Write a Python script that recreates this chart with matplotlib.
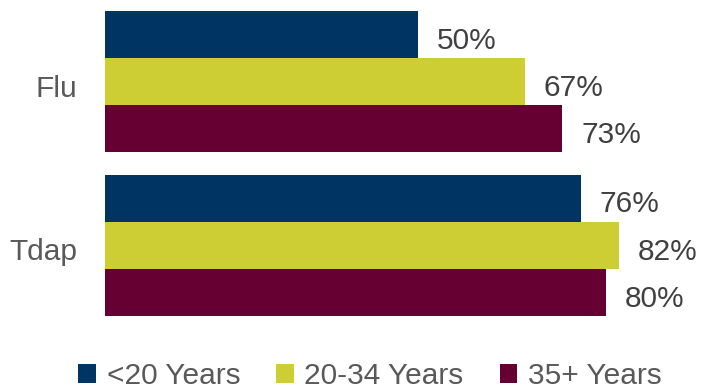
import matplotlib
matplotlib.use("Agg")
import matplotlib.pyplot as plt
import matplotlib.transforms as mtransforms
import numpy as np

categories = ["Flu", "Tdap"]
series_names = ["<20 Years", "20-34 Years", "35+ Years"]
values = {
    "<20 Years": [50, 76],
    "20-34 Years": [67, 82],
    "35+ Years": [73, 80],
}
colors = ["#003462", "#CDCE33", "#660033"]

plt.rcParams['font.family'] = ['Liberation Sans', 'DejaVu Sans']

fig = plt.figure(figsize=(7.14, 3.89), dpi=100)
ax = fig.add_axes([105/714, 62/389, 609/714, 327/389])

h = 0.2875
y = np.arange(len(categories))
handles = []
for i, (name, c) in enumerate(zip(series_names, colors)):
    vals = values[name]
    ypos = y + (i - 1) * h
    b = ax.barh(ypos, vals, height=h, color=c, edgecolor='none', label=name)
    handles.append(b)
    for yy, v in zip(ypos, vals):
        ax.annotate(f"{v}%", xy=(v, yy), xytext=(13.5, -4.5), textcoords='offset points',
                    ha='left', va='center', fontsize=21.5, color='#404040')

ax.set_xlim(0, 97.2)
ax.set_ylim(1.5, -0.5)
ax.set_yticks(y)
ax.set_yticklabels(categories, fontsize=21.5, color='#595959')
ax.tick_params(axis='y', length=0, pad=20)
offset = mtransforms.ScaledTranslation(0, -3/72, fig.dpi_scale_trans)
for lbl in ax.get_yticklabels():
    lbl.set_transform(lbl.get_transform() + offset)
ax.set_xticks([])
for s in ax.spines.values():
    s.set_visible(False)

leg = fig.legend(handles=handles, labels=series_names, loc='center', bbox_to_anchor=(370/714, 1 - 376/389),
                 ncol=3, frameon=False, fontsize=21.5, handlelength=0.6, handleheight=0.6,
                 handletextpad=0.35, columnspacing=1.2, borderpad=0, borderaxespad=0)
for t in leg.get_texts():
    t.set_color('#595959')

fig.savefig("out.png", dpi=100)
